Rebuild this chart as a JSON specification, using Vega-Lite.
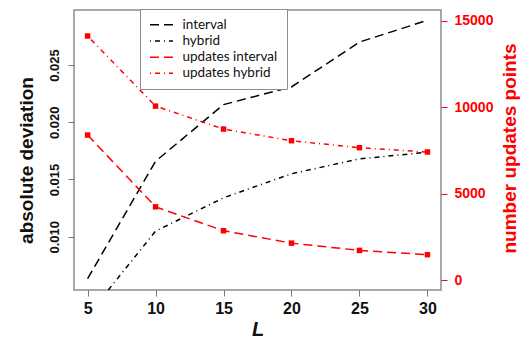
{
  "$schema": "https://vega.github.io/schema/vega-lite/v6.json",
  "width": 367,
  "height": 280,
  "autosize": {"type": "none"},
  "padding": {"left": 74, "top": 10, "right": 90, "bottom": 53},
  "background": "white",
  "config": {
    "view": {"stroke": "#8c8c8c", "strokeWidth": 1.5},
    "axis": {
      "labelFont": "Liberation Sans", "labelFontWeight": "bold", "labelFontSize": 13, "labelColor": "#111",
      "titleFont": "Liberation Sans", "titleFontWeight": "bold", "titleFontSize": 19, "titleColor": "#111",
      "tickColor": "#777", "tickSize": 6, "tickWidth": 1, "grid": false, "domain": false
    }
  },
  "data": {"values": [
    {"L": 5, "series": "interval", "value": 0.00634},
    {"L": 10, "series": "interval", "value": 0.01659},
    {"L": 15, "series": "interval", "value": 0.02154},
    {"L": 20, "series": "interval", "value": 0.02308},
    {"L": 25, "series": "interval", "value": 0.0270},
    {"L": 30, "series": "interval", "value": 0.0289},
    {"L": 5, "series": "hybrid", "value": 0.0031},
    {"L": 10, "series": "hybrid", "value": 0.01049},
    {"L": 15, "series": "hybrid", "value": 0.0134},
    {"L": 20, "series": "hybrid", "value": 0.0155},
    {"L": 25, "series": "hybrid", "value": 0.0168},
    {"L": 30, "series": "hybrid", "value": 0.01738},
    {"L": 5, "series": "updates interval", "value": 8385},
    {"L": 10, "series": "updates interval", "value": 4233},
    {"L": 15, "series": "updates interval", "value": 2849},
    {"L": 20, "series": "updates interval", "value": 2134},
    {"L": 25, "series": "updates interval", "value": 1713},
    {"L": 30, "series": "updates interval", "value": 1465},
    {"L": 5, "series": "updates hybrid", "value": 14112},
    {"L": 10, "series": "updates hybrid", "value": 10058},
    {"L": 15, "series": "updates hybrid", "value": 8731},
    {"L": 20, "series": "updates hybrid", "value": 8057},
    {"L": 25, "series": "updates hybrid", "value": 7653},
    {"L": 30, "series": "updates hybrid", "value": 7405}
  ]},
  "encoding": {
    "x": {
      "field": "L", "type": "quantitative",
      "scale": {"domain": [4, 31], "nice": false, "zero": false},
      "axis": {"values": [5, 10, 15, 20, 25, 30], "title": "L", "titleFontStyle": "italic", "titleFontSize": 20, "titlePadding": 3, "labelFontSize": 16, "labelPadding": 4}
    }
  },
  "layer": [
    {
      "transform": [{"filter": "datum.series === 'interval' || datum.series === 'hybrid'"}],
      "mark": {"type": "line", "clip": true, "strokeWidth": 1.5},
      "encoding": {
        "y": {
          "field": "value", "type": "quantitative",
          "scale": {"domain": [0.00535, 0.0298], "nice": false, "zero": false},
          "axis": {"orient": "left", "values": [0.010, 0.015, 0.020, 0.025], "format": ".3f", "labelAngle": -90, "labelAlign": "center", "labelBaseline": "bottom", "labelPadding": 7, "title": "absolute deviation", "titlePadding": 12, "titleY": 150}
        },
        "color": {
          "field": "series", "type": "nominal",
          "scale": {"domain": ["interval", "hybrid", "updates interval", "updates hybrid"], "range": ["#000000", "#000000", "#ff0000", "#ff0000"]},
          "legend": {
            "title": null, "orient": "none", "legendX": 66, "legendY": -1, "direction": "vertical",
            "symbolType": "M-1,0H3", "symbolSize": 132, "symbolStrokeWidth": 1.5,
            "labelFont": "Lato", "labelFontSize": 13.5, "labelColor": "#111", "labelOffset": 20,
            "rowPadding": 1.2, "padding": 9, "strokeColor": "#8c8c8c", "fillColor": "white", "cornerRadius": 0
          }
        },
        "strokeDash": {
          "field": "series", "type": "nominal",
          "scale": {"domain": ["interval", "hybrid", "updates interval", "updates hybrid"], "range": [[9, 5], [1, 4, 5, 4], [9, 5], [1, 4, 5, 4]]},
          "legend": null
        }
      }
    },
    {
      "transform": [{"filter": "datum.series === 'updates interval' || datum.series === 'updates hybrid'"}],
      "encoding": {
        "y": {
          "field": "value", "type": "quantitative",
          "scale": {"domain": [-577, 15617], "nice": false, "zero": false},
          "axis": {"orient": "right", "values": [0, 5000, 10000, 15000], "format": "d", "labelFontSize": 14, "labelColor": "#ff0000", "tickColor": "#ff0000", "labelPadding": 7, "title": "number updates points", "titleColor": "#ff0000", "titleAngle": -90, "titleBaseline": "top", "titlePadding": 8, "titleY": 138}
        }
      },
      "layer": [
        {
          "mark": {"type": "line", "strokeWidth": 1.5},
          "encoding": {
            "color": {"field": "series", "type": "nominal"},
            "strokeDash": {"field": "series", "type": "nominal"}
          }
        },
        {
          "mark": {"type": "point", "shape": "square", "filled": true, "size": 30, "color": "#ff0000", "opacity": 1},
          "encoding": {}
        },
        {
          "data": {"values": [{}]},
          "mark": {"type": "rule", "color": "#ff0000", "strokeWidth": 1},
          "encoding": {
            "x": {"datum": 31, "type": "quantitative"},
            "y": {"datum": 0, "type": "quantitative"},
            "y2": {"datum": 15000}
          }
        }
      ]
    }
  ],
  "resolve": {"scale": {"y": "independent"}}
}
